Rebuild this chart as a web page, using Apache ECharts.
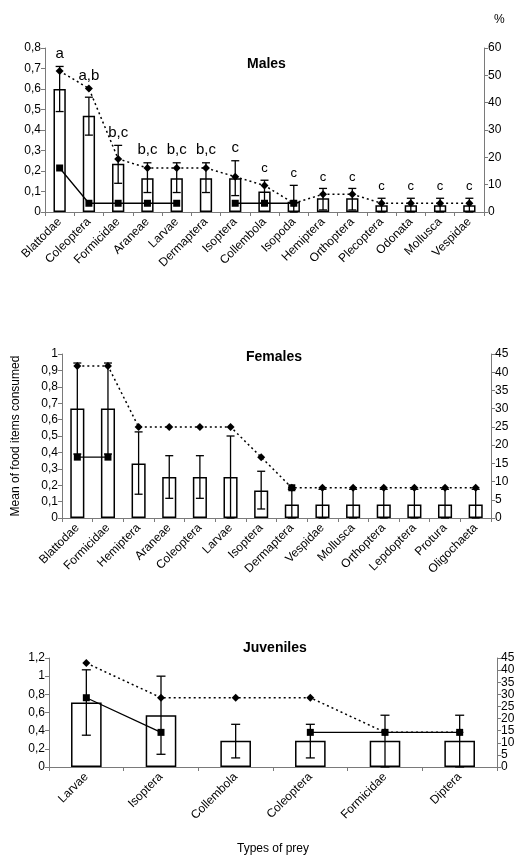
<!DOCTYPE html>
<html>
<head>
<meta charset="utf-8">
<script src="https://cdn.jsdelivr.net/npm/echarts@6/dist/echarts.min.js"></script>
<style>
  html, body { margin: 0; padding: 0; background: #fff; }
  #chart { width: 522px; height: 856px; }
</style>
</head>
<body>
<div id="chart"></div>
<script>
//---------------------------Data---------------------------
// males
let maleCats = ['Blattodae', 'Coleoptera', 'Formicidae', 'Araneae', 'Larvae', 'Dermaptera', 'Isoptera',
    'Collembola', 'Isopoda', 'Hemiptera', 'Orthoptera', 'Plecoptera', 'Odonata', 'Mollusca', 'Vespidae'];
let maleMean = [0.6, 0.47, 0.235, 0.165, 0.165, 0.165, 0.165, 0.1, 0.05, 0.067, 0.067, 0.033, 0.033, 0.033, 0.033];
let maleLow = [0.49, 0.375, 0.14, 0.095, 0.095, 0.095, 0.08, 0.045, 0, 0.01, 0.01, 0, 0, 0, 0];
let maleHigh = [0.71, 0.56, 0.325, 0.24, 0.24, 0.24, 0.25, 0.155, 0.13, 0.115, 0.115, 0.067, 0.067, 0.067, 0.067];
let maleDotted = [51.6, 45.2, 19.4, 16.1, 16.1, 16.1, 12.9, 9.7, 3.2, 6.5, 6.5, 3.2, 3.2, 3.2, 3.2];
let maleSolid = [16.1, 3.2, 3.2, 3.2, 3.2, null, 3.2, 3.2, 3.2, null, null, null, null, null, null];
let maleLetters = ['a', 'a,b', 'b,c', 'b,c', 'b,c', 'b,c', 'c', 'c', 'c', 'c', 'c', 'c', 'c', 'c', 'c'];

// females
let femaleCats = ['Blattodae', 'Formicidae', 'Hemiptera', 'Araneae', 'Coleoptera', 'Larvae', 'Isoptera',
    'Dermaptera', 'Vespidae', 'Mollusca', 'Orthoptera', 'Lepdoptera', 'Protura', 'Oligochaeta'];
let femaleMean = [0.667, 0.667, 0.333, 0.25, 0.25, 0.25, 0.167, 0.083, 0.083, 0.083, 0.083, 0.083, 0.083, 0.083];
let femaleLow = [0.39, 0.39, 0.145, 0.12, 0.12, 0, 0.055, 0, 0, 0, 0, 0, 0, 0];
let femaleHigh = [0.945, 0.945, 0.525, 0.38, 0.38, 0.5, 0.285, 0.175, 0.175, 0.175, 0.175, 0.175, 0.175, 0.175];
let femaleDotted = [41.7, 41.7, 25, 25, 25, 25, 16.7, 8.3, 8.3, 8.3, 8.3, 8.3, 8.3, 8.3];
let femaleSolid = [16.7, 16.7, null, null, null, null, null, 8.3, null, null, null, null, null, null];

// juveniles
let juvCats = ['Larvae', 'Isoptera', 'Collembola', 'Coleoptera', 'Formicidae', 'Diptera'];
let juvMean = [0.71, 0.57, 0.29, 0.29, 0.29, 0.29];
let juvLow = [0.35, 0.14, 0.1, 0.1, 0, 0];
let juvHigh = [1.07, 1.0, 0.47, 0.47, 0.57, 0.57];
let juvDotted = [42.9, 28.6, 28.6, 28.6, 14.3, 14.3];
let juvSolid = [28.6, 14.3, null, 14.3, 14.3, 14.3];

// axis ticks
let maleLeft = {max: 0.8, interval: 0.1};
let maleRight = {max: 60, interval: 10};
let femaleLeft = {max: 1, interval: 0.1};
let femaleRight = {max: 45, interval: 5};
let juvLeft = {max: 1.2, interval: 0.2};
let juvRight = {max: 45, interval: 5};

//---------------------------Helpers---------------------------
let FONT = 'Liberation Sans, Arial, sans-serif';
let AXIS_COLOR = '#7a7a7a';

function comma(v) {
    return String(+v.toFixed(1)).replace('.', ',');
}

function xAxisFor(idx, cats, extra) {
    return Object.assign({
        type: 'category',
        gridIndex: idx,
        data: cats,
        axisLine: {lineStyle: {color: AXIS_COLOR, width: 1}},
        axisTick: {show: true, length: 4, lineStyle: {color: AXIS_COLOR}},
        axisLabel: {interval: 0, rotate: 45, color: '#000', fontFamily: FONT, fontSize: 12, margin: 8}
    }, extra || {});
}

function yAxisFor(idx, range, pos, fmt, extra) {
    return Object.assign({
        type: 'value',
        gridIndex: idx,
        position: pos,
        min: 0,
        max: range.max,
        interval: range.interval,
        splitLine: {show: false},
        axisLine: {show: true, lineStyle: {color: AXIS_COLOR, width: 1}},
        axisTick: {show: true, length: 4, lineStyle: {color: AXIS_COLOR}},
        axisLabel: {color: '#000', fontFamily: FONT, fontSize: 12, margin: 4, formatter: fmt, hideOverlap: false}
    }, extra || {});
}

function errorData(low, high) {
    let d = [];
    for (let i = 0; i < low.length; i++) {
        d.push([i, low[i], high[i]]);
    }
    return d;
}

function errorSeries(xi, yi, low, high, cap) {
    return {
        type: 'custom',
        xAxisIndex: xi,
        yAxisIndex: yi,
        z: 3,
        silent: true,
        renderItem: function (params, api) {
            let x = api.coord([api.value(0), 0])[0];
            let lo = api.coord([api.value(0), api.value(1)])[1];
            let hi = api.coord([api.value(0), api.value(2)])[1];
            let st = {stroke: '#000', lineWidth: 1.3};
            return {
                type: 'group',
                children: [
                    {type: 'line', shape: {x1: x, y1: lo, x2: x, y2: hi}, style: st},
                    {type: 'line', shape: {x1: x - cap / 2, y1: hi, x2: x + cap / 2, y2: hi}, style: st},
                    {type: 'line', shape: {x1: x - cap / 2, y1: lo, x2: x + cap / 2, y2: lo}, style: st}
                ]
            };
        },
        encode: {x: 0, y: [1, 2]},
        data: errorData(low, high)
    };
}

function barSeries(xi, yi, data, width) {
    return {
        type: 'bar',
        xAxisIndex: xi,
        yAxisIndex: yi,
        barWidth: width,
        z: 2,
        itemStyle: {color: '#fff', borderColor: '#000', borderWidth: 1.5},
        data: data
    };
}

function dottedSeries(xi, yi, data) {
    return {
        type: 'line',
        xAxisIndex: xi,
        yAxisIndex: yi,
        z: 4,
        symbol: 'diamond',
        symbolSize: 8,
        itemStyle: {color: '#000'},
        lineStyle: {color: '#000', width: 1.5, type: [2, 3]},
        data: data
    };
}

function solidSeries(xi, yi, data) {
    return {
        type: 'line',
        xAxisIndex: xi,
        yAxisIndex: yi,
        z: 5,
        symbol: 'rect',
        symbolSize: 7,
        connectNulls: false,
        itemStyle: {color: '#000'},
        lineStyle: {color: '#000', width: 1.3},
        data: data
    };
}

// letters above males bars, sitting above the higher of error top and % point
function letterSeries() {
    let d = [];
    for (let i = 0; i < maleCats.length; i++) {
        d.push([i, maleHigh[i], maleDotted[i] * maleLeft.max / maleRight.max]);
    }
    return {
        type: 'custom',
        xAxisIndex: 0,
        yAxisIndex: 0,
        z: 6,
        silent: true,
        renderItem: function (params, api) {
            let i = api.value(0);
            let top = Math.max(api.value(1), api.value(2));
            let p = api.coord([i, top]);
            return {
                type: 'text',
                x: p[0],
                y: p[1] - 5,
                style: {
                    text: maleLetters[i],
                    fontFamily: FONT,
                    fontSize: i < 7 ? 15 : 13,
                    fill: '#000',
                    align: 'center',
                    verticalAlign: 'bottom'
                }
            };
        },
        encode: {x: 0, y: [1, 2]},
        data: d
    };
}

//---------------------------Chart---------------------------
let chart = echarts.init(document.getElementById('chart'), null, {renderer: 'canvas'});

let titleStyle = {fontFamily: FONT, fontSize: 14, fontWeight: 'bold', color: '#000'};

let option = {
    animation: false,
    backgroundColor: '#fff',
    title: [
        {text: 'Males', left: 247, top: 57, padding: 0, textStyle: titleStyle},
        {text: 'Females', left: 246, top: 350, padding: 0, textStyle: titleStyle},
        {text: 'Juveniles', left: 243, top: 641, padding: 0, textStyle: titleStyle}
    ],
    grid: [
        {left: 45, right: 38, top: 48, height: 164},
        {left: 62, right: 31, top: 354, height: 164},
        {left: 49, right: 25, top: 658, height: 113}
    ],
    xAxis: [
        xAxisFor(0, maleCats),
        xAxisFor(1, femaleCats),
        xAxisFor(2, juvCats, {
            name: 'Types of prey',
            nameLocation: 'middle',
            nameGap: 76,
            nameTextStyle: {fontFamily: FONT, fontSize: 12, color: '#000'}
        })
    ],
    yAxis: [
        yAxisFor(0, maleLeft, 'left', comma),
        yAxisFor(0, maleRight, 'right', null, {
            name: '%',
            nameLocation: 'end',
            nameGap: 22,
            nameTextStyle: {fontFamily: FONT, fontSize: 12, color: '#000', align: 'left', padding: [0, 0, 0, 10]}
        }),
        yAxisFor(1, femaleLeft, 'left', comma, {
            name: 'Mean of food items consumed',
            nameLocation: 'middle',
            nameGap: 40,
            nameTextStyle: {fontFamily: FONT, fontSize: 12, color: '#000'}
        }),
        yAxisFor(1, femaleRight, 'right', null),
        yAxisFor(2, juvLeft, 'left', comma),
        yAxisFor(2, juvRight, 'right', null)
    ],
    series: [
        barSeries(0, 0, maleMean, '42%'),
        errorSeries(0, 0, maleLow, maleHigh, 8),
        dottedSeries(0, 1, maleDotted),
        solidSeries(0, 1, maleSolid),
        letterSeries(),

        barSeries(1, 2, femaleMean, '46%'),
        errorSeries(1, 2, femaleLow, femaleHigh, 8),
        dottedSeries(1, 3, femaleDotted),
        solidSeries(1, 3, femaleSolid),

        barSeries(2, 4, juvMean, '41%'),
        errorSeries(2, 4, juvLow, juvHigh, 9),
        dottedSeries(2, 5, juvDotted),
        solidSeries(2, 5, juvSolid)
    ]
};

chart.setOption(option);
</script>
</body>
</html>
